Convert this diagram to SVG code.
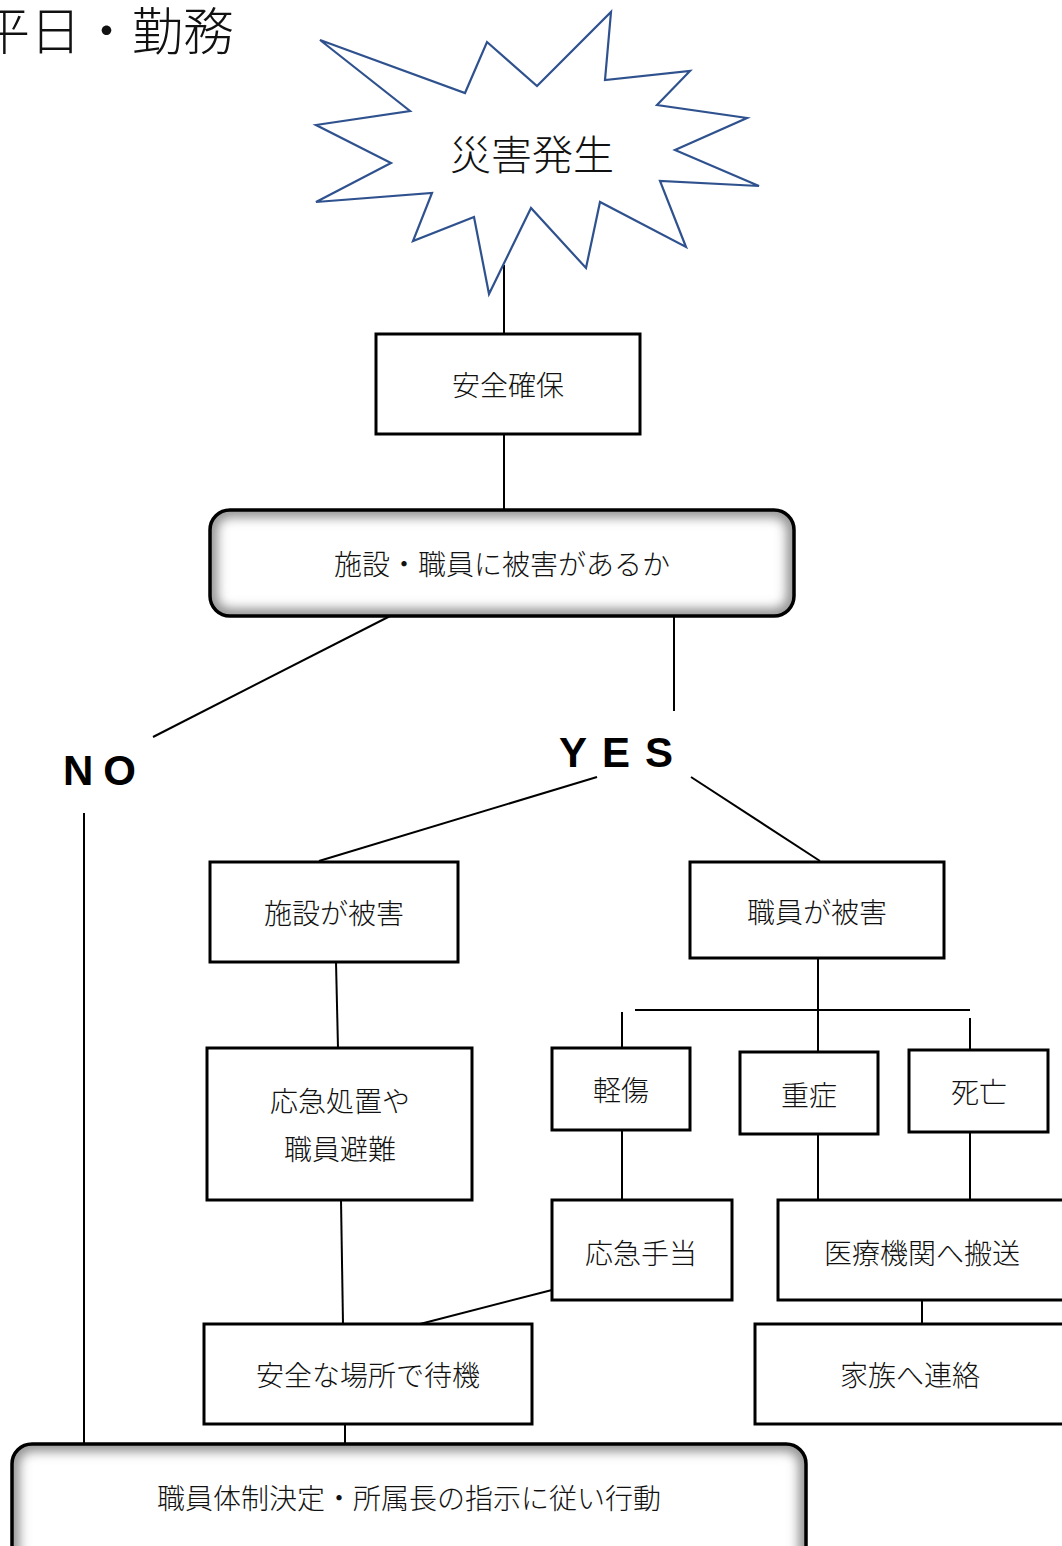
<svg xmlns="http://www.w3.org/2000/svg" width="1062" height="1546" viewBox="0 0 1062 1546">
<style>
.t{font-family:"Noto Sans CJK JP","Noto Sans",sans-serif;font-size:28px;font-weight:300;fill:#111;text-anchor:middle;dominant-baseline:central}
.box{fill:#fff;stroke:#000;stroke-width:3}
.ln{stroke:#000;stroke-width:2;fill:none}
.yn{font-family:"Liberation Sans","DejaVu Sans",sans-serif;font-weight:bold;font-size:42px;fill:#000;dominant-baseline:central}
</style>
<defs>
<filter id="blur" x="-10%" y="-30%" width="120%" height="160%"><feGaussianBlur stdDeviation="6"/></filter>
<clipPath id="c1"><rect x="210" y="510" width="584" height="106" rx="20"/></clipPath>
<clipPath id="c2"><rect x="12" y="1444" width="794" height="130" rx="20"/></clipPath>
</defs>
<text x="-21" y="28" font-family="'Noto Sans CJK JP',sans-serif" font-size="51" font-weight="300" dominant-baseline="central" fill="#111">平日・勤務</text>
<g id="connectors">
<line class="ln" x1="504" y1="265" x2="504" y2="334"/>
<line class="ln" x1="504" y1="434" x2="504" y2="509"/>
<line class="ln" x1="398" y1="612" x2="153" y2="737"/>
<line class="ln" x1="674" y1="612" x2="674" y2="711"/>
<line class="ln" x1="84" y1="813" x2="84" y2="1444"/>
<line class="ln" x1="597" y1="777" x2="319" y2="861"/>
<line class="ln" x1="691" y1="777" x2="820" y2="861"/>
<line class="ln" x1="336" y1="962" x2="338" y2="1048"/>
<line class="ln" x1="818" y1="958" x2="818" y2="1052"/>
<line class="ln" x1="635" y1="1010" x2="970" y2="1010"/>
<line class="ln" x1="622" y1="1012" x2="622" y2="1048"/>
<line class="ln" x1="970" y1="1018" x2="970" y2="1050"/>
<line class="ln" x1="622" y1="1130" x2="622" y2="1200"/>
<line class="ln" x1="818" y1="1134" x2="818" y2="1200"/>
<line class="ln" x1="970" y1="1132" x2="970" y2="1200"/>
<line class="ln" x1="922" y1="1300" x2="922" y2="1324"/>
<line class="ln" x1="341" y1="1200" x2="343" y2="1324"/>
<line class="ln" x1="552" y1="1290" x2="420" y2="1324"/>
<line class="ln" x1="345" y1="1424" x2="345" y2="1444"/>
</g>
<g id="disaster">
<polygon points="320,40 465,93 487,42 537,86 611,12 605,80 690,71 657,105 747,118 675,150 759,186 660,181 686,247 600,202 586,268 531,208 489,294 474,217 413,241 432,193 316,202 391,163 316,125 410,111" fill="#fff" stroke="#2F528F" stroke-width="2.2" stroke-linejoin="miter"/>
<text class="t" x="532" y="152" style="font-size:41px">災害発生</text>
</g>
<g id="safety"><rect class="box" x="376" y="334" width="264" height="100"/><text class="t" x="508" y="384">安全確保</text></g>
<g id="question">
<rect x="210" y="510" width="584" height="106" rx="20" fill="#fff"/>
<rect x="210" y="510" width="584" height="106" rx="20" fill="none" stroke="#888" stroke-width="14" filter="url(#blur)" clip-path="url(#c1)"/>
<rect x="210" y="510" width="584" height="106" rx="20" fill="none" stroke="#000" stroke-width="3.5"/>
<text class="t" x="502" y="563">施設・職員に被害があるか</text>
</g>
<g id="no"><text class="yn" x="63" y="770" letter-spacing="10">NO</text></g>
<g id="yes"><text class="yn" x="559" y="752" letter-spacing="15">YES</text></g>
<g id="facility"><rect class="box" x="210" y="862" width="248" height="100"/><text class="t" x="334" y="912">施設が被害</text></g>
<g id="staff"><rect class="box" x="690" y="862" width="254" height="96"/><text class="t" x="817" y="911">職員が被害</text></g>
<g id="emergency"><rect class="box" x="207" y="1048" width="265" height="152"/><text class="t" x="340" y="1100">応急処置や</text><text class="t" x="340" y="1148">職員避難</text></g>
<g id="minor"><rect class="box" x="552" y="1048" width="138" height="82"/><text class="t" x="621" y="1089">軽傷</text></g>
<g id="severe"><rect class="box" x="740" y="1052" width="138" height="82"/><text class="t" x="809" y="1094">重症</text></g>
<g id="death"><rect class="box" x="909" y="1050" width="139" height="82"/><text class="t" x="979" y="1091">死亡</text></g>
<g id="firstaid"><rect class="box" x="552" y="1200" width="180" height="100"/><text class="t" x="641" y="1252">応急手当</text></g>
<g id="hospital"><rect class="box" x="778" y="1200" width="300" height="100"/><text class="t" x="922" y="1252">医療機関へ搬送</text></g>
<g id="family"><rect class="box" x="755" y="1324" width="320" height="100"/><text class="t" x="910" y="1374">家族へ連絡</text></g>
<g id="wait"><rect class="box" x="204" y="1324" width="328" height="100"/><text class="t" x="368" y="1374">安全な場所で待機</text></g>
<g id="final">
<rect x="12" y="1444" width="794" height="130" rx="20" fill="#fff"/>
<rect x="12" y="1444" width="794" height="130" rx="20" fill="none" stroke="#888" stroke-width="14" filter="url(#blur)" clip-path="url(#c2)"/>
<rect x="12" y="1444" width="794" height="130" rx="20" fill="none" stroke="#000" stroke-width="3.5"/>
<text class="t" x="409" y="1497">職員体制決定・所属長の指示に従い行動</text>
</g>
</svg>
